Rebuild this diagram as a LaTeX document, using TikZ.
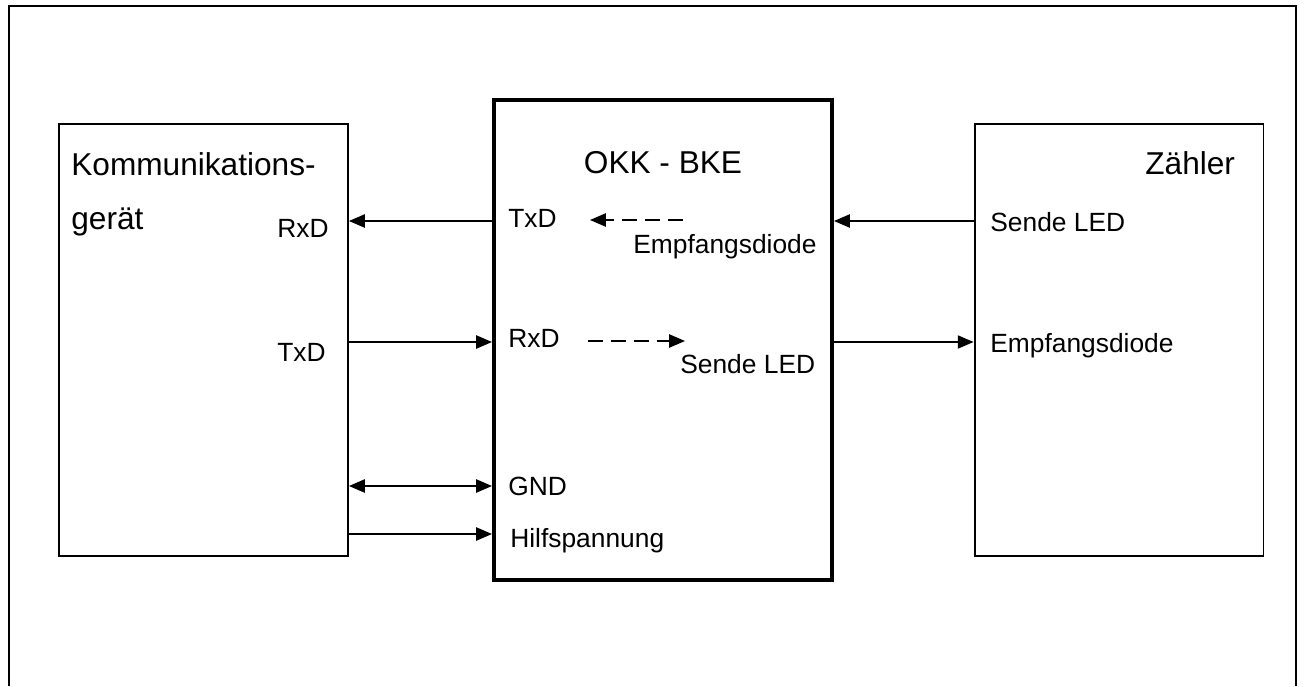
\documentclass[tikz,border=0pt]{standalone}
\usepackage{fontspec}
\setmainfont{Liberation Sans}
\usetikzlibrary{arrows.meta,positioning}

\begin{document}
\begin{tikzpicture}[x=0.02cm,y=-0.02cm,
    box/.style={draw,line width=1.1pt,minimum width=5.78cm,minimum height=8.64cm,inner sep=0pt},
    okk/.style={draw,line width=2.3pt,minimum width=6.76cm,minimum height=9.6cm,inner sep=0pt},
    big/.style={font=\fontsize{18}{22}\selectfont,inner sep=0pt,anchor=base west},
    lbl/.style={font=\fontsize{15}{18}\selectfont,inner sep=0pt,anchor=base west},
    sig/.style={->,line width=0.9pt},
    dsh/.style={->,line width=0.9pt,dash pattern=on 8.5pt off 4.5pt},
    >={Triangle[length=9pt,width=7.5pt]}]
  \useasboundingbox (0,0) rectangle (1304,686);
  \draw[line width=1.5pt] (9,686) -- (9,6) -- (1296,6) -- (1296,686);

  % blocks
  \node[box] (KG) at (203.5,340) {};
  \node[okk] (OKK) at (663,340) {};
  \node[box] (ZL) at (1119,340) {};

  % texts
  \node[big] (kgA) at (71,175) {Kommunikations-};
  \node[big] (kgB) at (71,229) {gerät};
  \node[lbl] (kgRx) at (277,237) {RxD};
  \node[lbl] (kgTx) at (277,361) {TxD};
  \node[big,anchor=base] (okkT) at (663,173) {OKK - BKE};
  \node[lbl] (okkTx) at (508,227) {TxD};
  \node[lbl] (okkEd) at (633,253) {Empfangsdiode};
  \node[lbl] (okkRx) at (508,347) {RxD};
  \node[lbl] (okkSl) at (680,373) {Sende LED};
  \node[lbl] (okkGnd) at (508,495) {GND};
  \node[lbl] (okkHs) at (510,547) {Hilfspannung};
  \node[big] (zlT) at (1145,174) {Zähler};
  \node[lbl] (zlSl) at (990,231) {Sende LED};
  \node[lbl] (zlEd) at (990,352) {Empfangsdiode};

  % signal rows
  \coordinate (rowA) at (0,221);
  \coordinate (rowB) at (0,342);
  \coordinate (rowC) at (0,486);
  \coordinate (rowD) at (0,534);
  \draw[sig] (OKK.west |- rowA) -- (KG.east |- rowA);
  \draw[sig] (KG.east |- rowB) -- (OKK.west |- rowB);
  \draw[sig,<->] (KG.east |- rowC) -- (OKK.west |- rowC);
  \draw[sig] (KG.east |- rowD) -- (OKK.west |- rowD);
  \draw[sig] (ZL.west |- rowA) -- (OKK.east |- rowA);
  \draw[sig] (OKK.east |- rowB) -- (ZL.west |- rowB);

  % internal paths
  \coordinate (dA1) at (683,220);
  \coordinate (dA2) at (590,220);
  \coordinate (dB1) at (588,341);
  \coordinate (dB2) at (685,341);
  \draw[dsh] (dA1) -- (dA2);
  \draw[dsh] (dB1) -- (dB2);
\end{tikzpicture}
\end{document}
